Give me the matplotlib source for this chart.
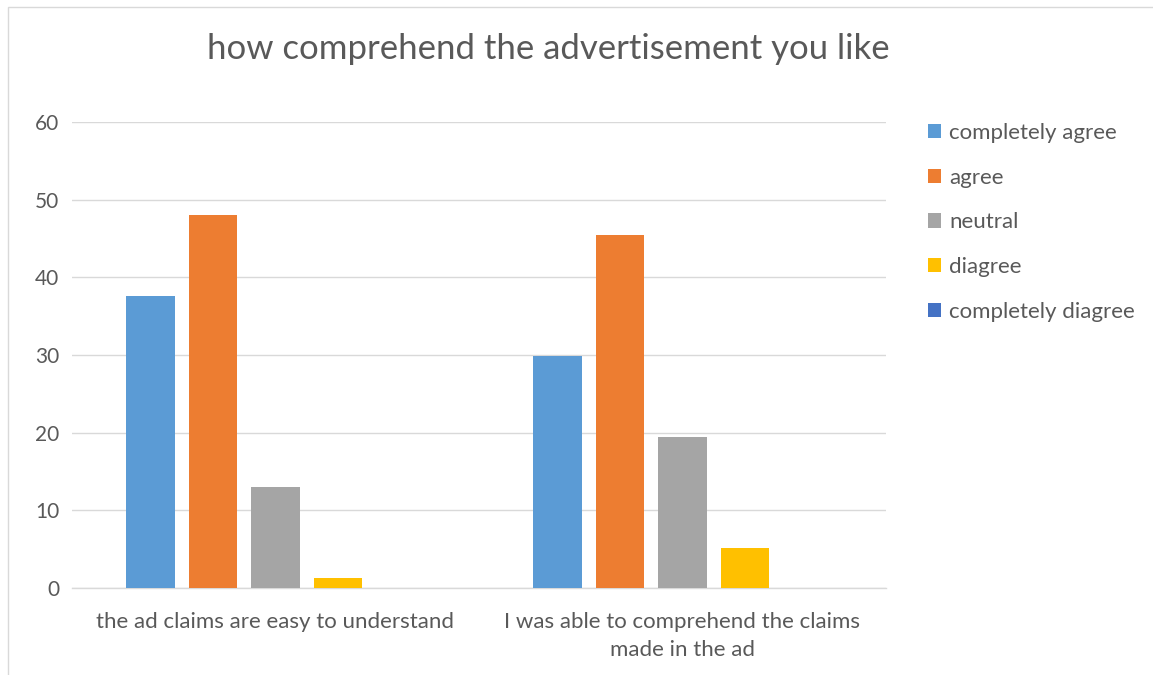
import matplotlib
matplotlib.use("Agg")
import matplotlib.pyplot as plt
import numpy as np
from matplotlib.patches import Rectangle, Patch

plt.rcParams['font.family'] = ['Lato', 'DejaVu Sans']

categories = ["the ad claims are easy to understand",
              "I was able to comprehend the claims\nmade in the ad"]
series_names = ["completely agree", "agree", "neutral", "diagree", "completely diagree"]
series_values = [
    [37.66, 29.87],   # completely agree
    [48.05, 45.45],   # agree
    [12.99, 19.48],   # neutral
    [1.30, 5.19],     # diagree
    [0.0, 0.0],       # completely diagree
]
colors = ["#5B9BD5", "#ED7D31", "#A5A5A5", "#FFC000", "#4472C4"]
yticks = [0, 10, 20, 30, 40, 50, 60]

W, H = 1153, 675
fig = plt.figure(figsize=(W / 100, H / 100), dpi=100)

# chart frame
fig.patches.append(Rectangle((8 / W, -0.1), 1.2, (H - 7) / H + 0.1,
                             transform=fig.transFigure, fill=False,
                             edgecolor="#d9d9d9", linewidth=1.0))

ax = fig.add_axes([72 / W, (H - 588) / H, (886 - 72) / W, (588 - 122) / H])

x = np.arange(len(categories))
width = 0.12
step = 0.1536
n = len(series_names)
for i, (name, vals, c) in enumerate(zip(series_names, series_values, colors)):
    offs = (i - (n - 1) / 2) * step
    ax.bar(x + offs, vals, width=width, color=c, label=name, zorder=3)

ax.set_xlim(-0.5, 1.5)
ax.set_ylim(0, 60)
ax.set_yticks(yticks)
ax.set_yticklabels([str(t) for t in yticks])
ax.grid(axis='y', color="#d9d9d9", linewidth=1.0, zorder=0)
for s in ["top", "right", "left"]:
    ax.spines[s].set_visible(False)
ax.spines["bottom"].set_color("#d9d9d9")
ax.spines["bottom"].set_linewidth(1.0)
ax.tick_params(axis='both', length=0, colors="#595959", labelsize=15)
ax.tick_params(axis='y', pad=9)
ax.tick_params(axis='x', pad=17, labelsize=16)
ax.set_xticks(x)
ax.set_xticklabels(categories, linespacing=1.55)

fig.text(548 / W, 1 - 49 / H, "how comprehend the advertisement you like",
         ha='center', va='center', fontsize=25, color="#595959")

handles = [Patch(facecolor=c, edgecolor='none') for c in colors]
leg = fig.legend(handles, series_names, loc='upper left',
                 bbox_to_anchor=(908 / W, 1 - 103 / H), frameon=False,
                 fontsize=16, labelcolor="#595959", handlelength=0.6,
                 handleheight=0.6, handletextpad=0.35, labelspacing=1.11)

fig.savefig("out.png", dpi=100)
